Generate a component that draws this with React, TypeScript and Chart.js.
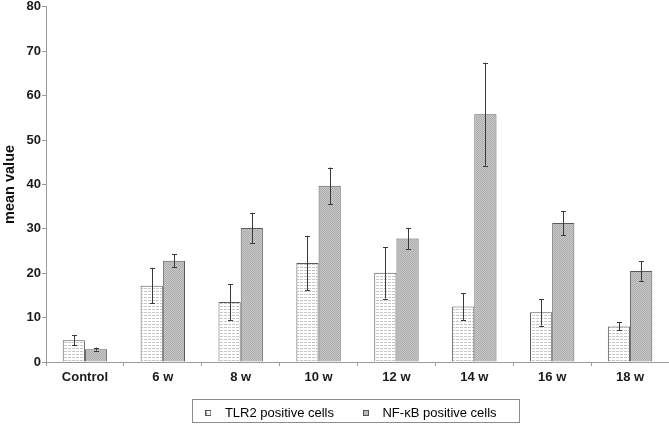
import React, { useEffect, useRef } from "react";
import { Chart, registerables } from "chart.js";

Chart.register(...registerables);

const categories = ["Control", "6 w", "8 w", "10 w", "12 w", "14 w", "16 w", "18 w"];
const seriesLabels = ["TLR2 positive cells", "NF-\u03baB positive cells"];
const tlr2Values = [4.9, 17.2, 13.5, 22.3, 20.1, 12.5, 11.2, 8.0];
const tlr2Errors = [1.1, 4.0, 4.0, 6.1, 5.8, 3.0, 3.0, 0.9];
const nfkbValues = [2.9, 22.8, 30.2, 39.7, 27.8, 55.8, 31.3, 20.5];
const nfkbErrors = [0.35, 1.5, 3.4, 4.1, 2.4, 11.6, 2.7, 2.2];
const yMin = 0;
const yMax = 80;
const yStep = 10;
const yTitle = "mean value";

const FONT = "'Liberation Sans', Arial, sans-serif";

function makeTile(w: number, h: number, draw: (ctx: CanvasRenderingContext2D) => void) {
  const c = document.createElement("canvas");
  c.width = w;
  c.height = h;
  const ctx = c.getContext("2d")!;
  draw(ctx);
  return c;
}

const errorBarsPlugin = {
  id: "errorBars",
  afterDatasetsDraw(chart: any) {
    const ctx = chart.ctx;
    const yScale = chart.scales.y;
    chart.data.datasets.forEach((ds: any, i: number) => {
      const meta = chart.getDatasetMeta(i);
      const errs: number[] = ds.errors || [];
      meta.data.forEach((bar: any, j: number) => {
        const v = ds.data[j];
        const e = errs[j];
        if (e == null) return;
        const x = Math.round(bar.x) + 0.5;
        const yTop = yScale.getPixelForValue(v + e);
        const yBot = yScale.getPixelForValue(v - e);
        ctx.save();
        ctx.strokeStyle = "#3a3a3a";
        ctx.lineWidth = 1;
        ctx.beginPath();
        ctx.moveTo(x, yTop);
        ctx.lineTo(x, yBot);
        ctx.moveTo(x - 2.5, Math.round(yTop) + 0.5);
        ctx.lineTo(x + 2.5, Math.round(yTop) + 0.5);
        ctx.moveTo(x - 2.5, Math.round(yBot) + 0.5);
        ctx.lineTo(x + 2.5, Math.round(yBot) + 0.5);
        ctx.stroke();
        ctx.restore();
      });
    });
  },
};

// Legend box is centred a little left of the plot-area centre in the reference.
const legendShiftPlugin = {
  id: "legendShift",
  afterLayout(chart: any) {
    const lg = chart.legend;
    if (!lg) return;
    lg.left -= 10;
    lg.right -= 10;
  },
};

const legendBorderPlugin = {
  id: "legendBorder",
  afterDraw(chart: any) {
    const lg = chart.legend;
    if (!lg || !lg.legendHitBoxes || !lg.legendHitBoxes.length) return;
    const hb = lg.legendHitBoxes;
    const first = hb[0];
    const last = hb[hb.length - 1];
    const cy = first.top + first.height / 2;
    const left = Math.round(first.left - 6) + 0.5;
    const right = Math.round(last.left + last.width + 22) + 0.5;
    const top = Math.round(cy - 14) + 0.5;
    const ctx = chart.ctx;
    ctx.save();
    ctx.strokeStyle = "#8c8c8c";
    ctx.lineWidth = 1;
    ctx.strokeRect(left, top, right - left, 23);
    ctx.restore();
  },
};

export default function App() {
  const ref = useRef<HTMLCanvasElement | null>(null);

  useEffect(() => {
    if (!ref.current) return;
    const tlrTile = makeTile(4, 3, (c) => {
      c.fillStyle = "#ffffff";
      c.fillRect(0, 0, 4, 3);
      c.fillStyle = "#c6c6c6";
      c.fillRect(0, 0, 3, 1);
    });
    const nfTile = makeTile(2, 2, (c) => {
      c.fillStyle = "#c8c8c8";
      c.fillRect(0, 0, 2, 2);
      c.fillStyle = "#acacac";
      c.fillRect(0, 0, 1, 1);
      c.fillRect(1, 1, 1, 1);
    });
    const pctx = ref.current.getContext("2d")!;
    const tlrPattern = pctx.createPattern(tlrTile, "repeat")!;
    const nfPattern = pctx.createPattern(nfTile, "repeat")!;

    const makeMarker = (tile: HTMLCanvasElement) =>
      makeTile(6, 6, (c) => {
        c.fillStyle = c.createPattern(tile, "repeat")!;
        c.fillRect(0, 0, 6, 6);
        c.strokeStyle = "#555555";
        c.lineWidth = 1;
        c.strokeRect(0.5, 0.5, 5, 5);
      });
    const markers = [makeMarker(tlrTile), makeMarker(nfTile)];

    const chart = new Chart(ref.current, {
      type: "bar",
      data: {
        labels: categories,
        datasets: [
          {
            label: seriesLabels[0],
            data: tlr2Values,
            errors: tlr2Errors,
            backgroundColor: tlrPattern,
            borderColor: "#5a5a5a",
            borderWidth: 1,
          } as any,
          {
            label: seriesLabels[1],
            data: nfkbValues,
            errors: nfkbErrors,
            backgroundColor: nfPattern,
            borderColor: "#5a5a5a",
            borderWidth: 1,
          } as any,
        ],
      },
      options: {
        animation: false,
        responsive: true,
        maintainAspectRatio: false,
        devicePixelRatio: 1,
        datasets: { bar: { categoryPercentage: 0.57, barPercentage: 1 } },
        layout: { padding: { top: 6, left: 0, right: 0, bottom: -2.5 } },
        plugins: {
          tooltip: { enabled: false },
          legend: {
            display: true,
            position: "bottom",
            fullSize: false,
            labels: {
              usePointStyle: true,
              pointStyleWidth: 20,
              padding: 22,
              color: "#000000",
              font: { family: FONT, size: 13 },
              generateLabels: (ch: any) =>
                ch.data.datasets.map((ds: any, i: number) => ({
                  text: ds.label,
                  pointStyle: markers[i],
                  fillStyle: "#ffffff",
                  strokeStyle: "#555555",
                  lineWidth: 0,
                  hidden: false,
                  datasetIndex: i,
                  fontColor: "#000000",
                })),
            },
          },
        },
        scales: {
          x: {
            afterFit: (s: any) => {
              s.height = 22.5;
            },
            grid: {
              display: true,
              offset: true,
              drawOnChartArea: false,
              drawTicks: true,
              tickLength: 4,
              color: "#9a9a9a",
            },
            border: { display: true, color: "#9a9a9a" },
            ticks: {
              color: "#1a1a1a",
              padding: 4,
              font: { family: FONT, size: 13, weight: "bold" },
            },
          },
          y: {
            min: yMin,
            max: yMax,
            afterFit: (s: any) => {
              s.width = 46;
            },
            grid: {
              display: true,
              drawOnChartArea: false,
              drawTicks: true,
              tickLength: 4,
              color: "#9a9a9a",
            },
            border: { display: true, color: "#9a9a9a" },
            ticks: {
              stepSize: yStep,
              color: "#1a1a1a",
              padding: 1,
              font: { family: FONT, size: 13, weight: "bold", lineHeight: 0.9 },
            },
            title: {
              display: true,
              text: yTitle,
              color: "#111111",
              padding: { top: 1, bottom: 0 },
              font: { family: FONT, size: 14.5, weight: "bold" },
            },
          },
        },
      } as any,
      plugins: [legendShiftPlugin, errorBarsPlugin, legendBorderPlugin],
    });
    return () => chart.destroy();
  }, []);

  return (
    <div style={{ position: "fixed", left: 0, top: 0, width: 669, height: 427, background: "#ffffff" }}>
      <canvas ref={ref} />
    </div>
  );
}
